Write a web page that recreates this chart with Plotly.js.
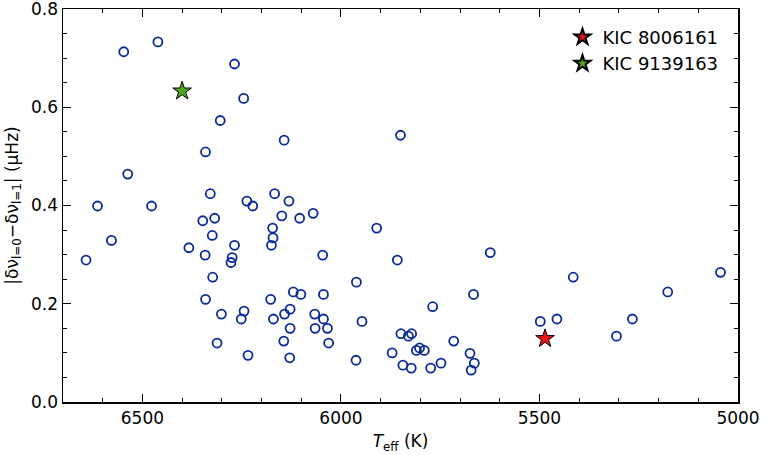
<!DOCTYPE html>
<html>
<head>
<meta charset="utf-8">
<script src="https://cdn.plot.ly/plotly-3.0.1.min.js"></script>
<style>html,body{margin:0;padding:0;background:#fff;}#chart{width:765px;height:455px;}</style>
</head>
<body>
<div id="chart"></div>
<script>
// Sample stars: effective temperature (K) and |dnu_l=0 - dnu_l=1| (muHz)
var teff = [6547,6461,6268,6245,6304,6143,6341,6537,6613,6477,6329,6237,6222,6167,6131,6149,6104,6070,6348,6318,6172,5910,
            6642,6578,6383,6342,6324,6268,6274,6277,6175,6171,6046,6323,6341,6301,6312,6244,6251,6234,6177,6170,6144,6129,
            6142,6128,6128,6120,6101,6066,6065,6044,6044,6034,6031,5961,5947,5962,5858,5624,5666,5769,5415,5177,5044,5498,
            5456,5266,5306,5849,5830,5822,5716,5871,5810,5802,5790,5844,5823,5774,5748,5675,5664,5672,5850];
var dnu  = [0.713,0.733,0.688,0.618,0.573,0.533,0.509,0.464,0.399,0.399,0.424,0.409,0.399,0.424,0.409,0.379,0.374,0.384,0.369,0.374,0.354,0.354,
            0.289,0.329,0.314,0.299,0.339,0.319,0.294,0.284,0.319,0.334,0.299,0.254,0.209,0.179,0.120,0.185,0.169,0.095,0.209,0.169,0.124,0.090,
            0.179,0.189,0.150,0.224,0.219,0.179,0.150,0.219,0.169,0.150,0.120,0.244,0.164,0.085,0.289,0.304,0.219,0.194,0.254,0.224,0.264,0.164,
            0.169,0.169,0.134,0.139,0.134,0.139,0.124,0.100,0.105,0.110,0.105,0.075,0.069,0.069,0.079,0.099,0.079,0.065,0.543];
var starNames = ["KIC 8006161","KIC 9139163"];
var starTeff = [5486, 6400];
var starDnu  = [0.129, 0.633];
var starColors = ["#e8141a","#4fa619"];
var xTicks = [6500, 6000, 5500, 5000];
var yTicks = [0.0, 0.2, 0.4, 0.6, 0.8];
var yTickText = ["0.0", "0.2", "0.4", "0.6", "0.8"];

var traces = [{
  x: teff, y: dnu, mode: "markers", type: "scatter", showlegend: false,
  marker: {symbol: "circle-open", size: 9, color: "#0b2a9a", line: {width: 1.8, color: "#0b2a9a"}}
}];
for (var i = 0; i < starNames.length; i++) {
  traces.push({
    x: [starTeff[i]], y: [starDnu[i]], mode: "markers", type: "scatter", name: starNames[i],
    marker: {symbol: "star", size: 14, color: starColors[i], line: {width: 1, color: "#000"}}
  });
}

var axisCommon = {
  showgrid: false, zeroline: false, showline: true, linecolor: "#000", linewidth: 1.5,
  mirror: "allticks", ticks: "inside", ticklen: 8, tickwidth: 1, tickcolor: "#000",
  ticklabeloverflow: "allow",
  tickfont: {family: "DejaVu Sans", size: 17, color: "#000"}
};

var layout = {
  width: 765, height: 455,
  margin: {l: 63, r: 27, t: 9, b: 53},
  paper_bgcolor: "#fff", plot_bgcolor: "#fff",
  font: {family: "DejaVu Sans", color: "#000"},
  xaxis: Object.assign({}, axisCommon, {
    range: [6700, 5000], tickmode: "array", tickvals: xTicks,
    minor: {ticks: "inside", tick0: 5000, dtick: 100, ticklen: 4, tickcolor: "#000", tickwidth: 1},
    title: {text: "<i>T</i><sub>eff</sub> (K)", font: {family: "DejaVu Sans", size: 17}, standoff: 8}
  }),
  yaxis: Object.assign({}, axisCommon, {
    range: [0, 0.8], tickmode: "array", tickvals: yTicks, ticktext: yTickText,
    minor: {ticks: "inside", tick0: 0, dtick: 0.05, ticklen: 4, tickcolor: "#000", tickwidth: 1},
    title: {text: "|δν<sub>l=0</sub>−δν<sub>l=1</sub>| (μHz)", font: {family: "DejaVu Sans", size: 17}, standoff: 8}
  }),
  legend: {x: 0.74, y: 0.975, xanchor: "left", yanchor: "top", bgcolor: "rgba(0,0,0,0)",
           font: {family: "DejaVu Sans", size: 18, color: "#000"}, itemsizing: "constant", tracegroupgap: 0}
};

Plotly.newPlot("chart", traces, layout, {displayModeBar: false, staticPlot: true});
</script>
</body>
</html>
